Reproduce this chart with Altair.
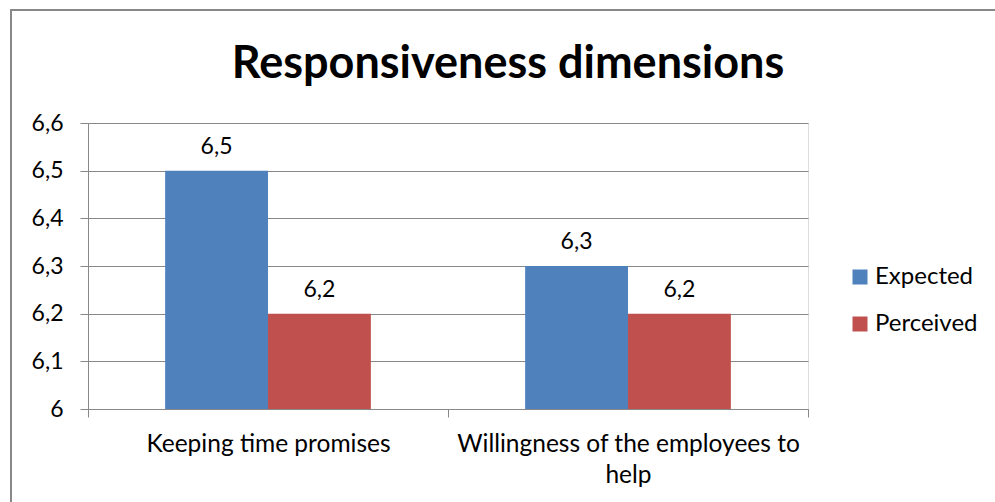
import altair as alt
import pandas as pd

categories = ["Keeping time promises", "Willingness of the employees to help"]
series = ["Expected", "Perceived"]
expected = [6.5, 6.3]
perceived = [6.2, 6.2]
y_ticks = [6.0, 6.1, 6.2, 6.3, 6.4, 6.5, 6.6]
colors = ["#4F81BD", "#C0504D"]
title_text = "Responsiveness dimensions"

rows = []
for c, e, p in zip(categories, expected, perceived):
    rows.append({"category": c, "series": "Expected", "value": e})
    rows.append({"category": c, "series": "Perceived", "value": p})
df = pd.DataFrame(rows)

FONT = "Lato"
GRAY = "#888888"

label_expr = ("datum.label == 'Willingness of the employees to help' ? "
              "['Willingness of the employees to', 'help'] : datum.label")

x_enc = alt.X("category:N", sort=categories,
              scale=alt.Scale(paddingInner=0, paddingOuter=0),
              axis=alt.Axis(title=None, labelAngle=0, labelExpr=label_expr,
                            tickBand="extent", tickSize=8, tickColor=GRAY,
                            domainColor=GRAY, labelFont=FONT, labelFontSize=24.5,
                            labelColor="#000000", labelPadding=15,
                            labelLineHeight=31, grid=False, labelLimit=400))
y_enc = alt.Y("value:Q",
              scale=alt.Scale(domain=[6.0, 6.6], zero=False, nice=False),
              axis=alt.Axis(title=None, values=y_ticks,
                            labelExpr="replace(format(datum.value, '.1~f'), '.', ',')",
                            tickSize=8, tickColor=GRAY, domainColor=GRAY,
                            gridColor=GRAY, gridWidth=1.2, labelFont=FONT,
                            labelFontSize=23, labelColor="#000000",
                            labelPadding=17))
xoff = alt.XOffset("series:N", sort=series,
                   scale=alt.Scale(paddingOuter=0.75, paddingInner=0))

bars = alt.Chart(df).mark_bar(clip=True).encode(
    x=x_enc, y=y_enc, xOffset=xoff,
    color=alt.Color("series:N", sort=series,
                    scale=alt.Scale(domain=series, range=colors),
                    legend=alt.Legend(title=None, orient="none", legendX=760,
                                      legendY=142, symbolType="square",
                                      symbolSize=225, symbolStrokeWidth=0,
                                      labelFont=FONT, labelFontSize=24,
                                      labelColor="#000000", labelOffset=3,
                                      rowPadding=23, padding=0)),
)

texts = alt.Chart(df).mark_text(font=FONT, fontSize=23, color="#000000",
                                baseline="alphabetic", dy=-17).encode(
    x=alt.X("category:N", sort=categories), y="value:Q", xOffset=xoff,
    text=alt.Text("label:N"),
).transform_calculate(
    label="replace(format(datum.value, '.1~f'), '.', ',')"
)

frame = alt.Chart(alt.Data(values=[{"k": 1}])).mark_rect(
    fillOpacity=0, stroke=GRAY, strokeWidth=2
).encode(x=alt.value(-77), x2=alt.value(920), y=alt.value(-113), y2=alt.value(420))

title = alt.Chart(alt.Data(values=[{"t": title_text}])).mark_text(
    font=FONT, fontSize=45, fontWeight="bold", color="#000000",
    align="center", baseline="alphabetic"
).encode(text="t:N", x=alt.value(420), y=alt.value(-45))

chart = alt.layer(frame, bars, texts, title).properties(
    width=720, height=286,
    padding={"left": 88, "top": 123, "right": 187, "bottom": 93},
    autosize=alt.AutoSizeParams(type="none"),
).configure_view(stroke="transparent").configure(background="white")

chart.save("out.html", embed_options={"renderer": "svg", "actions": False})
